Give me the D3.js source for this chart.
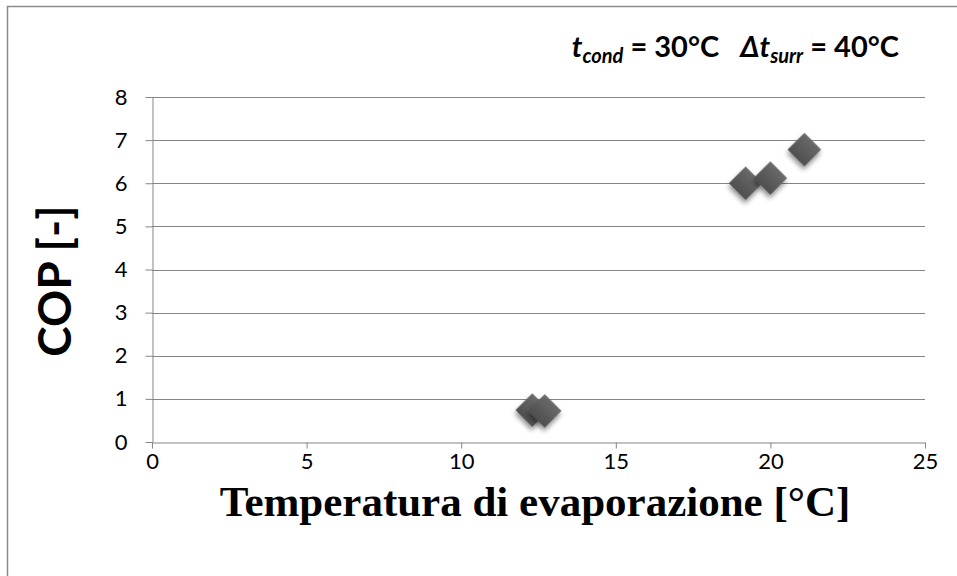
<!DOCTYPE html>
<html>
<head>
<meta charset="utf-8">
<script src="https://cdn.jsdelivr.net/npm/d3@7"></script>
<style>
  body { margin: 0; background: #fff; }
  svg { display: block; }
</style>
</head>
<body>
<svg id="canvas" width="957" height="576"></svg>
<script>
// data
let tEvap = [12.3, 12.7, 19.2, 20.0, 21.1]
let cop = [0.74, 0.72, 6.0, 6.12, 6.78]
let xTicks = [0, 5, 10, 15, 20, 25]
let yTicks = [0, 1, 2, 3, 4, 5, 6, 7, 8]

let canvas = d3.select('#canvas')

let margin = {left: 152, right: 32, top: 97, bottom: 134}
let width = 957, height = 576

let xScale = d3.scaleLinear().domain([0, 25]).range([margin.left, width - margin.right])
let yScale = d3.scaleLinear().domain([0, 8]).range([height - margin.bottom, margin.top])

// outer chart frame
canvas.append('rect')
    .attr('x', 7.5).attr('y', 6.5)
    .attr('width', 1000).attr('height', 700)
    .attr('fill', 'white')
    .attr('stroke', '#8c8c8c')
    .attr('stroke-width', 1.5)

let defs = canvas.append('defs')
let shadow = defs.append('filter').attr('id', 'shadow')
    .attr('x', '-50%').attr('y', '-50%').attr('width', '200%').attr('height', '200%')
shadow.append('feDropShadow')
    .attr('dx', 2).attr('dy', 3).attr('stdDeviation', 2.5)
    .attr('flood-color', '#000').attr('flood-opacity', 0.45)

let grad = defs.append('linearGradient').attr('id', 'mk')
    .attr('x1', 0).attr('y1', 0).attr('x2', 0).attr('y2', 1)
grad.append('stop').attr('offset', '0%').attr('stop-color', '#6a6a6a')
grad.append('stop').attr('offset', '100%').attr('stop-color', '#4e4e4e')

// gridlines
canvas.append('g')
    .selectAll('line')
    .data(yTicks.slice(1))
    .enter()
    .append('line')
    .attr('x1', xScale(0)).attr('x2', xScale(25))
    .attr('y1', (d) => Math.round(yScale(d)) + 0.5)
    .attr('y2', (d) => Math.round(yScale(d)) + 0.5)
    .attr('stroke', '#868686')

let xAxis = d3.axisBottom(xScale).tickValues(xTicks).tickSize(6).tickSizeOuter(0)
let yAxis = d3.axisLeft(yScale).tickValues(yTicks).tickSize(7).tickSizeOuter(0)

let gx = canvas.append('g')
    .attr('transform', 'translate(0,' + (Math.round(yScale(0)) + 0.5) + ')')
    .call(xAxis)
let gy = canvas.append('g')
    .attr('transform', 'translate(' + (Math.round(xScale(0)) + 0.5) + ',0)')
    .call(yAxis)

;[gx, gy].forEach((g) => {
    g.select('.domain').attr('stroke', '#868686')
    g.selectAll('.tick line').attr('stroke', '#868686')
    g.selectAll('.tick text')
        .attr('fill', '#000')
        .style('font-family', 'Lato, "Open Sans", sans-serif')
        .style('font-size', '22px')
})
gx.selectAll('.tick text').attr('dy', '0.71em').attr('y', 11)
gy.selectAll('.tick text').attr('x', -25)

// markers
let diamond = d3.symbol().type(d3.symbolSquare).size(560)
canvas.append('g')
    .selectAll('path')
    .data(tEvap)
    .enter()
    .append('path')
    .attr('d', diamond)
    .attr('transform', (d, i) => 'translate(' + xScale(d) + ',' + yScale(cop[i]) + ') rotate(45)')
    .attr('fill', 'url(#mk)')
    .attr('filter', 'url(#shadow)')

// axis titles
canvas.append('text')
    .attr('x', 535).attr('y', 516)
    .attr('text-anchor', 'middle')
    .style('font-family', '"Liberation Serif", "Times New Roman", serif')
    .style('font-weight', 'bold')
    .style('font-size', '43px')
    .text('Temperatura di evaporazione [°C]')

canvas.append('text')
    .attr('transform', 'translate(71,281) rotate(-90)')
    .attr('text-anchor', 'middle')
    .style('font-family', 'Lato, "Open Sans", sans-serif')
    .style('font-weight', 'bold')
    .style('font-size', '46px')
    .text('COP [-]')

// annotation
let note = canvas.append('text')
    .attr('x', 899).attr('y', 57)
    .attr('text-anchor', 'end')
    .style('font-family', 'Lato, "Open Sans", sans-serif')
    .style('font-weight', 'bold')
    .style('font-size', '29px')
note.append('tspan').style('font-style', 'italic').text('t')
note.append('tspan').style('font-style', 'italic').style('font-size', '20px').attr('dy', 6).text('cond')
note.append('tspan').attr('dy', -6).text(' = 30°C\u00a0\u00a0\u00a0')
note.append('tspan').style('font-style', 'italic').text('Δt')
note.append('tspan').style('font-style', 'italic').style('font-size', '20px').attr('dy', 6).text('surr')
note.append('tspan').attr('dy', -6).text(' = 40°C')
</script>
</body>
</html>
